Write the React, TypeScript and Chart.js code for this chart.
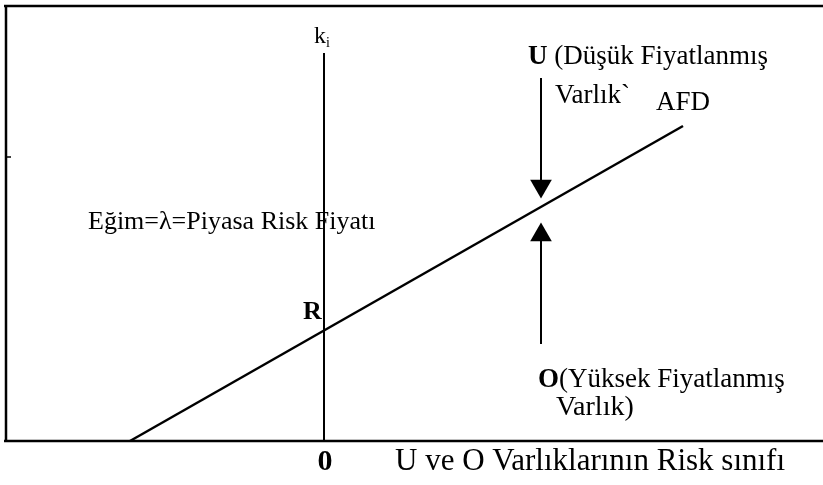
import React, { useEffect, useRef } from "react";
import { Chart, registerables } from "chart.js";

Chart.register(...registerables);

// Coordinate ranges of the diagram (abstract units)
const xRange = [-3.18, 4.99];
const yRange = [0, 4.35];

// AFD line (asset market line)
const afdX = [-1.94, 3.59];
const afdY = [0, 3.15];

// k_i vertical axis
const kAxisX = [0, 0];
const kAxisY = [0, 3.88];

// U arrow (pointing down) and O arrow (pointing up)
const uArrowX = [2.17, 2.17];
const uArrowY = [3.63, 2.6];
const oArrowX = [2.17, 2.17];
const oArrowY = [0.97, 2.0];
const uHeadX = [2.17];
const uHeadY = [2.55];
const oHeadX = [2.17];
const oHeadY = [2.06];

// Frame
const frameLeftX = [-3.18, -3.18];
const frameLeftY = [0, 4.35];
const frameTopX = [-3.2, 4.99];
const frameTopY = [4.35, 4.35];
const frameBottomX = [-3.2, 4.99];
const frameBottomY = [0, 0];
const tickX = [-3.18, -3.13];
const tickY = [2.84, 2.84];

// Text labels
const labelTexts = [
  "k|i",
  "U| (Düşük Fiyatlanmış",
  "Varlık`",
  "AFD",
  "Eğim=λ=Piyasa Risk Fiyatı",
  "R",
  "O|(Yüksek Fiyatlanmış",
  "Varlık)",
  "0",
  "U ve O Varlıklarının Risk sınıfı",
];

const FONT = '"Liberation Serif", "Times New Roman", serif';

type Run = { t: string; bold?: boolean; sub?: boolean };
type Ann = { runs: Run[]; x: number; y: number; size: number; align?: "left" | "center" };

const annotations: Ann[] = [
  { runs: [{ t: "k" }, { t: "i", sub: true }], x: -0.1, y: 4.04, size: 24 },
  { runs: [{ t: "U", bold: true }, { t: " (Düşük Fiyatlanmış" }], x: 2.04, y: 3.84, size: 27 },
  { runs: [{ t: labelTexts[2] }], x: 2.31, y: 3.45, size: 27 },
  { runs: [{ t: labelTexts[3] }], x: 3.32, y: 3.38, size: 27 },
  { runs: [{ t: labelTexts[4] }], x: -2.36, y: 2.19, size: 26 },
  { runs: [{ t: labelTexts[5], bold: true }], x: -0.21, y: 1.29, size: 26 },
  { runs: [{ t: "O", bold: true }, { t: "(Yüksek Fiyatlanmış" }], x: 2.14, y: 0.61, size: 27 },
  { runs: [{ t: labelTexts[7] }], x: 2.32, y: 0.33, size: 28 },
  { runs: [{ t: labelTexts[8], bold: true }], x: 0.01, y: -0.21, size: 30, align: "center" },
  { runs: [{ t: labelTexts[9] }], x: 0.71, y: -0.21, size: 31 },
];

const pts = (xs: number[], ys: number[]) => xs.map((x, i) => ({ x, y: ys[i] }));

const lineDs = (data: { x: number; y: number }[], width: number) => ({
  data,
  showLine: true,
  borderColor: "#000",
  borderWidth: width,
  pointRadius: 0,
  clip: false as any,
  borderCapStyle: "butt" as const,
});

const textPlugin = {
  id: "diagramText",
  afterDatasetsDraw(chart: any) {
    const ctx = chart.ctx;
    const xs = chart.scales.x;
    const ys = chart.scales.y;
    ctx.save();
    ctx.fillStyle = "#000";
    ctx.textBaseline = "middle";
    ctx.textAlign = "left";
    for (const a of annotations) {
      const fontFor = (r: Run) =>
        `${r.bold ? "bold " : ""}${r.sub ? Math.round(a.size * 0.6) : a.size}px ${FONT}`;
      let total = 0;
      for (const r of a.runs) {
        ctx.font = fontFor(r);
        total += ctx.measureText(r.t).width;
      }
      let px = xs.getPixelForValue(a.x);
      const py = ys.getPixelForValue(a.y);
      if (a.align === "center") px -= total / 2;
      for (const r of a.runs) {
        ctx.font = fontFor(r);
        ctx.fillText(r.t, px, r.sub ? py + a.size * 0.28 : py);
        px += ctx.measureText(r.t).width;
      }
    }
    ctx.restore();
  },
};

export default function App() {
  const ref = useRef<HTMLCanvasElement | null>(null);
  useEffect(() => {
    document.body.style.margin = "0";
    const canvas = ref.current!;
    const chart = new Chart(canvas, {
      type: "scatter",
      data: {
        datasets: [
          lineDs(pts(frameLeftX, frameLeftY), 2.5),
          lineDs(pts(frameTopX, frameTopY), 2.5),
          lineDs(pts(frameBottomX, frameBottomY), 2.5),
          lineDs(pts(tickX, tickY), 1.5),
          lineDs(pts(kAxisX, kAxisY), 2),
          lineDs(pts(afdX, afdY), 2.5),
          lineDs(pts(uArrowX, uArrowY), 2),
          lineDs(pts(oArrowX, oArrowY), 2),
          {
            data: pts(uHeadX, uHeadY),
            pointStyle: "triangle",
            rotation: 180,
            pointRadius: 12.5,
            backgroundColor: "#000",
            borderColor: "#000",
            borderWidth: 0,
            clip: false as any,
          },
          {
            data: pts(oHeadX, oHeadY),
            pointStyle: "triangle",
            rotation: 0,
            pointRadius: 12.5,
            backgroundColor: "#000",
            borderColor: "#000",
            borderWidth: 0,
            clip: false as any,
          },
        ],
      },
      options: {
        responsive: false,
        animation: false,
        events: [],
        layout: { autoPadding: false, padding: { left: 6, top: 6, right: 0, bottom: 44 } },
        plugins: { legend: { display: false }, tooltip: { enabled: false } },
        scales: {
          x: { type: "linear", display: false, min: xRange[0], max: xRange[1] },
          y: { type: "linear", display: false, min: yRange[0], max: yRange[1] },
        },
      },
      plugins: [textPlugin],
    });
    return () => chart.destroy();
  }, []);
  return (
    <div style={{ position: "absolute", left: 0, top: 0, width: 823, height: 485, background: "#fff" }}>
      <canvas ref={ref} width={823} height={485} style={{ display: "block" }} />
    </div>
  );
}
